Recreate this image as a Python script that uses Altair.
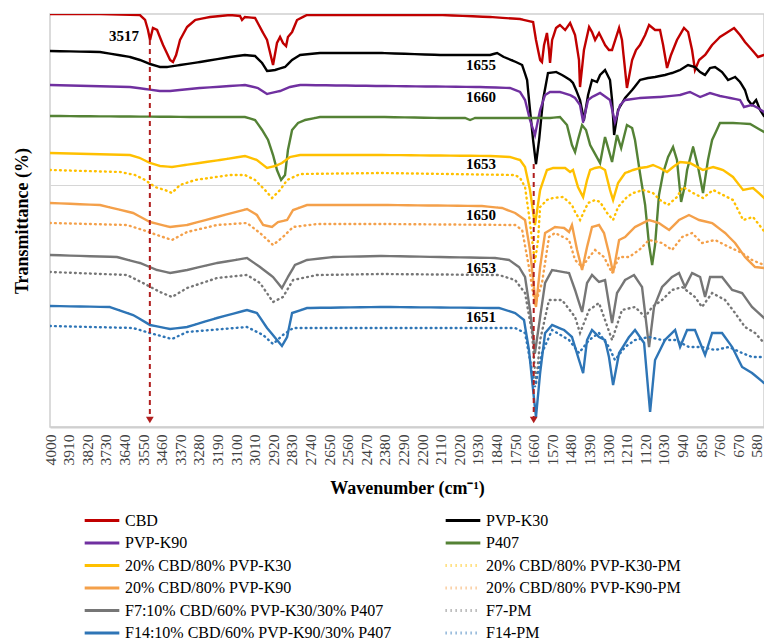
import altair as alt
import pandas as pd

# ---------------- data (wavenumber cm-1, transmittance offset units) ----------------
SERIES = [
    "CBD", "PVP-K30",
    "PVP-K90", "P407",
    "20% CBD/80% PVP-K30", "20% CBD/80% PVP-K30-PM",
    "20% CBD/80% PVP-K90", "20% CBD/80% PVP-K90-PM",
    "F7:10% CBD/60% PVP-K30/30% P407", "F7-PM",
    "F14:10% CBD/60% PVP-K90/30% P407", "F14-PM",
]
COLORS = [
    "#C00000", "#000000",
    "#7030A0", "#548235",
    "#FFC000", "#FFC000",
    "#F4A04A", "#F4A04A",
    "#767676", "#767676",
    "#2E75B6", "#2E75B6",
]
DOTTED = [False, False, False, False, False, True, False, True, False, True, False, True]

CBD = [(4000,416),(3758,416),(3565,415),(3540,410),(3526,400),(3516,390),(3502,402),(3482,400),(3453,385),(3419,370),(3405,368),(3390,375),(3371,390),(3337,403),(3298,410),(3226,413),(3129,415),(3081,414),(3071,410),(3057,413),(3008,412),(2969,397),(2950,390),(2921,365),(2902,387),(2887,393),(2873,387),(2858,384),(2849,393),(2829,398),(2805,410),(2757,415),(2394,415),(2113,415),(1871,413),(1726,411),(1663,408),(1649,390),(1629,370),(1620,368),(1610,385),(1596,397),(1586,380),(1581,367),(1571,390),(1552,402),(1533,405),(1508,400),(1484,407),(1460,395),(1441,370),(1436,343),(1417,380),(1392,403),(1378,398),(1363,390),(1344,397),(1315,385),(1296,380),(1281,380),(1247,402),(1233,390),(1209,342),(1184,370),(1165,380),(1146,385),(1121,395),(1102,405),(1073,400),(1049,400),(1034,385),(1015,362),(996,375),(967,390),(933,402),(913,398),(894,380),(880,360),(860,370),(831,375),(797,385),(759,393),(691,402),(662,395),(638,388),(604,380),(575,373),(546,375)]
PVP_K30 = [(4000,379),(3758,378),(3613,373),(3565,370),(3516,366),(3468,363),(3434,363),(3371,365),(3274,368),(3129,373),(3057,375),(3008,374),(2974,367),(2950,359),(2911,360),(2863,363),(2829,370),(2790,375),(2694,377),(2394,377),(2113,375),(1871,375),(1837,377),(1804,373),(1746,368),(1716,365),(1692,350),(1678,320),(1663,290),(1649,266),(1634,290),(1615,330),(1591,357),(1552,358),(1523,355),(1484,350),(1470,347),(1455,340),(1436,330),(1417,310),(1397,335),(1378,350),(1354,348),(1339,355),(1315,360),(1291,350),(1281,330),(1271,295),(1252,320),(1218,332),(1184,340),(1146,350),(1107,352),(1073,353),(1025,355),(991,357),(952,360),(913,365),(880,363),(855,358),(831,355),(807,362),(783,363),(749,358),(720,350),(686,353),(662,348),(638,340),(623,330),(604,325),(584,330),(565,320),(546,314)]
PVP_K90 = [(4000,345),(3613,343),(3540,341),(3468,339),(3419,339),(3274,342),(3057,345),(2994,342),(2950,336),(2887,339),(2839,343),(2790,345),(2394,344),(1920,343),(1775,342),(1726,338),(1702,330),(1678,310),(1654,295),(1629,320),(1605,335),(1581,338),(1533,338),(1484,335),(1460,332),(1436,325),(1421,308),(1397,330),(1378,333),(1339,337),(1291,330),(1267,308),(1242,325),(1218,330),(1146,332),(1049,333),(952,335),(904,338),(855,333),(807,337),(759,334),(710,332),(662,330),(643,323),(604,325),(575,322),(546,318)]
P407 = [(4000,314),(3274,313),(3057,313),(3008,310),(2974,300),(2945,290),(2921,275),(2902,260),(2882,250),(2863,255),(2849,280),(2829,300),(2800,307),(2766,310),(2694,313),(2394,313),(2113,312),(1992,312),(1968,310),(1944,312),(1823,312),(1581,312),(1533,313),(1499,305),(1475,285),(1460,278),(1446,290),(1426,305),(1407,300),(1387,285),(1339,267),(1315,293),(1281,268),(1257,295),(1237,282),(1209,305),(1184,302),(1170,290),(1146,257),(1121,225),(1102,185),(1087,165),(1073,185),(1054,235),(1034,257),(1010,273),(986,283),(967,270),(947,228),(928,245),(918,260),(889,283),(865,263),(841,237),(817,270),(797,290),(759,307),(696,307),(613,306),(546,298)]
Y_K30 = [(4000,277),(3613,275),(3565,272),(3516,267),(3468,264),(3410,263),(3347,265),(3178,270),(3057,274),(2999,270),(2950,262),(2911,264),(2878,267),(2839,273),(2790,275),(2394,275),(1871,274),(1775,273),(1726,270),(1702,263),(1678,240),(1654,205),(1629,240),(1596,260),(1567,262),(1508,262),(1484,258),(1470,260),(1446,243),(1421,233),(1402,250),(1387,260),(1363,262),(1339,263),(1315,260),(1291,240),(1276,230),(1252,247),(1218,257),(1179,260),(1146,262),(1112,263),(1083,265),(1049,262),(1015,258),(986,263),(952,268),(904,267),(841,260),(792,263),(744,260),(696,253),(647,240),(599,242),(550,233),(546,232)]
Y_K30_PM = [(4000,260),(3661,258),(3589,255),(3540,250),(3492,243),(3444,240),(3410,237),(3371,245),(3298,250),(3129,255),(3057,255),(3008,250),(2960,240),(2926,232),(2887,240),(2853,250),(2790,256),(2394,257),(1750,255),(1726,252),(1702,243),(1683,215),(1668,190),(1654,168),(1639,190),(1629,223),(1596,230),(1567,232),(1518,233),(1475,225),(1460,218),(1436,210),(1397,227),(1363,230),(1339,228),(1305,217),(1276,210),(1252,223),(1209,233),(1179,237),(1131,240),(1083,237),(1049,230),(1010,225),(967,233),(938,243),(889,237),(841,232),(792,240),(744,235),(696,230),(647,210),(599,213),(550,200),(546,199)]
O_K90 = [(4000,227),(3758,225),(3598,217),(3516,208),(3419,203),(3337,205),(3192,213),(3047,221),(2999,215),(2969,205),(2926,203),(2897,208),(2853,210),(2824,220),(2757,225),(2394,225),(1910,224),(1813,222),(1750,217),(1702,210),(1678,180),(1649,123),(1629,163),(1605,197),(1557,203),(1513,202),(1489,198),(1475,205),(1450,180),(1426,160),(1402,183),(1378,203),(1344,205),(1320,197),(1296,177),(1276,157),(1247,190),(1218,193),(1170,203),(1102,210),(1054,207),(1005,200),(957,210),(909,215),(860,210),(797,207),(734,197),(686,187),(638,173),(589,163),(546,162)]
O_K90_PM = [(4000,207),(3627,205),(3550,200),(3482,195),(3410,190),(3337,198),(3192,205),(3047,207),(2984,197),(2921,185),(2873,193),(2824,203),(2708,206),(2394,206),(1750,205),(1716,200),(1683,163),(1654,125),(1620,147),(1586,193),(1557,197),(1489,190),(1460,170),(1426,163),(1392,173),(1363,180),(1320,173),(1281,157),(1247,173),(1199,173),(1150,180),(1102,190),(1039,187),(991,180),(942,193),(894,197),(846,187),(783,190),(715,183),(652,177),(604,170),(546,165)]
F7 = [(4000,175),(3676,173),(3565,167),(3482,160),(3419,157),(3337,160),(3192,167),(3047,172),(2984,163),(2921,153),(2878,142),(2849,153),(2815,165),(2757,170),(2631,173),(2394,174),(1847,172),(1779,170),(1731,163),(1702,153),(1678,120),(1654,77),(1629,113),(1605,147),(1571,160),(1489,157),(1460,140),(1426,118),(1402,147),(1378,155),(1344,148),(1315,150),(1281,107),(1257,137),(1218,150),(1175,155),(1136,143),(1102,83),(1078,123),(1039,143),(991,153),(957,157),(928,143),(894,157),(855,153),(831,133),(807,153),(749,153),(700,140),(652,137),(604,123),(546,112)]
F7_PM = [(4000,158),(3627,155),(3550,147),(3468,138),(3410,133),(3337,142),(3192,152),(3047,155),(2984,147),(2921,128),(2873,133),(2824,150),(2708,155),(2394,156),(1828,155),(1750,150),(1702,137),(1668,97),(1649,45),(1629,90),(1586,130),(1523,130),(1460,113),(1436,97),(1392,120),(1344,127),(1315,110),(1281,90),(1233,120),(1170,123),(1121,113),(1087,123),(1039,130),(991,140),(942,143),(880,133),(846,123),(797,137),(734,130),(686,117),(638,103),(589,97),(546,87)]
F14 = [(4000,124),(3710,123),(3598,115),(3516,105),(3419,101),(3337,103),(3192,112),(3047,120),(2999,117),(2950,102),(2902,90),(2878,84),(2853,93),(2829,117),(2757,122),(2394,123),(1828,122),(1750,117),(1707,110),(1683,80),(1658,30),(1649,13),(1629,57),(1605,97),(1571,105),(1513,100),(1475,93),(1441,70),(1421,57),(1402,90),(1378,100),(1344,93),(1315,90),(1296,73),(1276,45),(1247,77),(1199,93),(1170,100),(1126,87),(1097,18),(1073,70),(1025,90),(976,100),(952,83),(918,100),(880,100),(831,75),(797,97),(749,97),(700,83),(652,63),(604,57),(546,47)]
F14_PM = [(4000,104),(3598,102),(3516,97),(3410,91),(3337,98),(3047,103),(2969,95),(2921,86),(2873,95),(2824,102),(2394,102),(1750,102),(1702,97),(1678,70),(1654,43),(1620,77),(1571,100),(1489,90),(1441,77),(1392,90),(1344,97),(1296,83),(1267,70),(1218,83),(1170,90),(1102,93),(1039,90),(976,90),(909,83),(846,83),(783,80),(715,83),(652,77),(604,73),(546,73)]

SPECTRA = [CBD, PVP_K30, PVP_K90, P407, Y_K30, Y_K30_PM, O_K90, O_K90_PM, F7, F7_PM, F14, F14_PM]

TICKS = [4000, 3910, 3820, 3730, 3640, 3550, 3460, 3370, 3280, 3190, 3100, 3010, 2920, 2830,
         2740, 2650, 2560, 2470, 2380, 2290, 2200, 2110, 2020, 1930, 1840, 1750, 1660, 1570,
         1480, 1390, 1300, 1210, 1120, 1030, 940, 850, 760, 670, 580]

ANN_TEXT = ["3517", "1655", "1660", "1653", "1650", "1653", "1651"]
ANN_WN = [3642, 1915, 1915, 1915, 1915, 1915, 1915]
ANN_T = [394, 365, 333, 266, 215, 162, 113]

ARROW_WN = [3517, 1660]
ARROW_TOP = [390, 266]
ARROW_BOTTOM = [10, 10]

# ---------------- tables ----------------
rows = []
for name, pts in zip(SERIES, SPECTRA):
    for wn, t in pts:
        rows.append({"series": name, "wn": wn, "T": t})
spec_df = pd.DataFrame(rows)
ann_df = pd.DataFrame({"label": ANN_TEXT, "wn": ANN_WN, "T": ANN_T})
arr_df = pd.DataFrame({"wn": ARROW_WN, "top": ARROW_TOP, "bottom": ARROW_BOTTOM})

SOLID = [10, 0]
DOT = [0.8, 4.2]
dash_range = [DOT if d else SOLID for d in DOTTED]

FONT = "'Liberation Serif', 'Times New Roman', serif"

xscale = alt.Scale(domain=[546, 4000], reverse=True, nice=False, zero=False)
yscale = alt.Scale(domain=[3, 416], nice=False, zero=False)

x_axis = alt.Axis(
    values=TICKS, tickCount=200, format="d", title="Wavenumber (cm\u207b\u00b9)",
    labelAngle=270, labelAlign="right", labelBaseline="middle", labelFont=FONT,
    labelFontSize=15.5, labelColor="#404040", labelPadding=7, labelOverlap=False,
    labelFlush=False, ticks=False, grid=False, domainColor="#CFCFCF", domainWidth=2,
    titleFont=FONT, titleFontSize=18, titleFontWeight="bold", titleColor="#000000",
    titlePadding=14,
)
y_axis = alt.Axis(
    values=[245], labels=False, ticks=False, domain=False, grid=True, gridColor="#D6D6D6",
    gridWidth=1.2, title="Transmittance (%)", titleFont=FONT, titleFontSize=18,
    titleFontWeight="bold", titleColor="#000000", titlePadding=19,
)

legend = alt.Legend(
    title=None, orient="none", legendX=33, legendY=498, columns=2, direction="horizontal",
    columnPadding=52, rowPadding=5.5, clipHeight=17, symbolType="stroke", symbolSize=1200,
    symbolStrokeWidth=3, labelFont=FONT, labelFontSize=16, labelColor="#000000",
    labelLimit=0, labelOffset=4,
)

lines = alt.Chart(spec_df).mark_line(strokeWidth=2.4, strokeCap="round", clip=True).encode(
    x=alt.X("wn:Q", scale=xscale, axis=x_axis),
    y=alt.Y("T:Q", scale=yscale, axis=y_axis),
    color=alt.Color("series:N", scale=alt.Scale(domain=SERIES, range=COLORS), sort=SERIES, legend=legend),
    strokeDash=alt.StrokeDash("series:N", scale=alt.Scale(domain=SERIES, range=dash_range), sort=SERIES, legend=legend),
    order=alt.Order("wn:Q", sort="descending"),
)

rules = alt.Chart(arr_df).mark_rule(color="#B01E1E", strokeWidth=2, strokeDash=[5, 4]).encode(
    x=alt.X("wn:Q", scale=xscale),
    y=alt.Y("top:Q", scale=yscale),
    y2="bottom:Q",
)
heads = alt.Chart(arr_df).mark_point(
    shape="triangle-down", filled=True, size=60, color="#B01E1E", opacity=1
).encode(
    x=alt.X("wn:Q", scale=xscale),
    y=alt.Y("bottom:Q", scale=yscale),
)
labels = alt.Chart(ann_df).mark_text(
    font=FONT, fontSize=15, fontWeight="bold", color="#000000"
).encode(
    x=alt.X("wn:Q", scale=xscale),
    y=alt.Y("T:Q", scale=yscale),
    text="label:N",
)

chart = alt.layer(lines, rules, heads, labels).properties(
    width=714, height=413,
    autosize=alt.AutoSizeParams(type="none"),
    padding={"left": 50, "top": 14, "right": 0, "bottom": 215},
).configure_view(stroke="#CFCFCF", strokeWidth=1.5)

chart.save("out.html", embed_options={"renderer": "svg", "actions": False})
